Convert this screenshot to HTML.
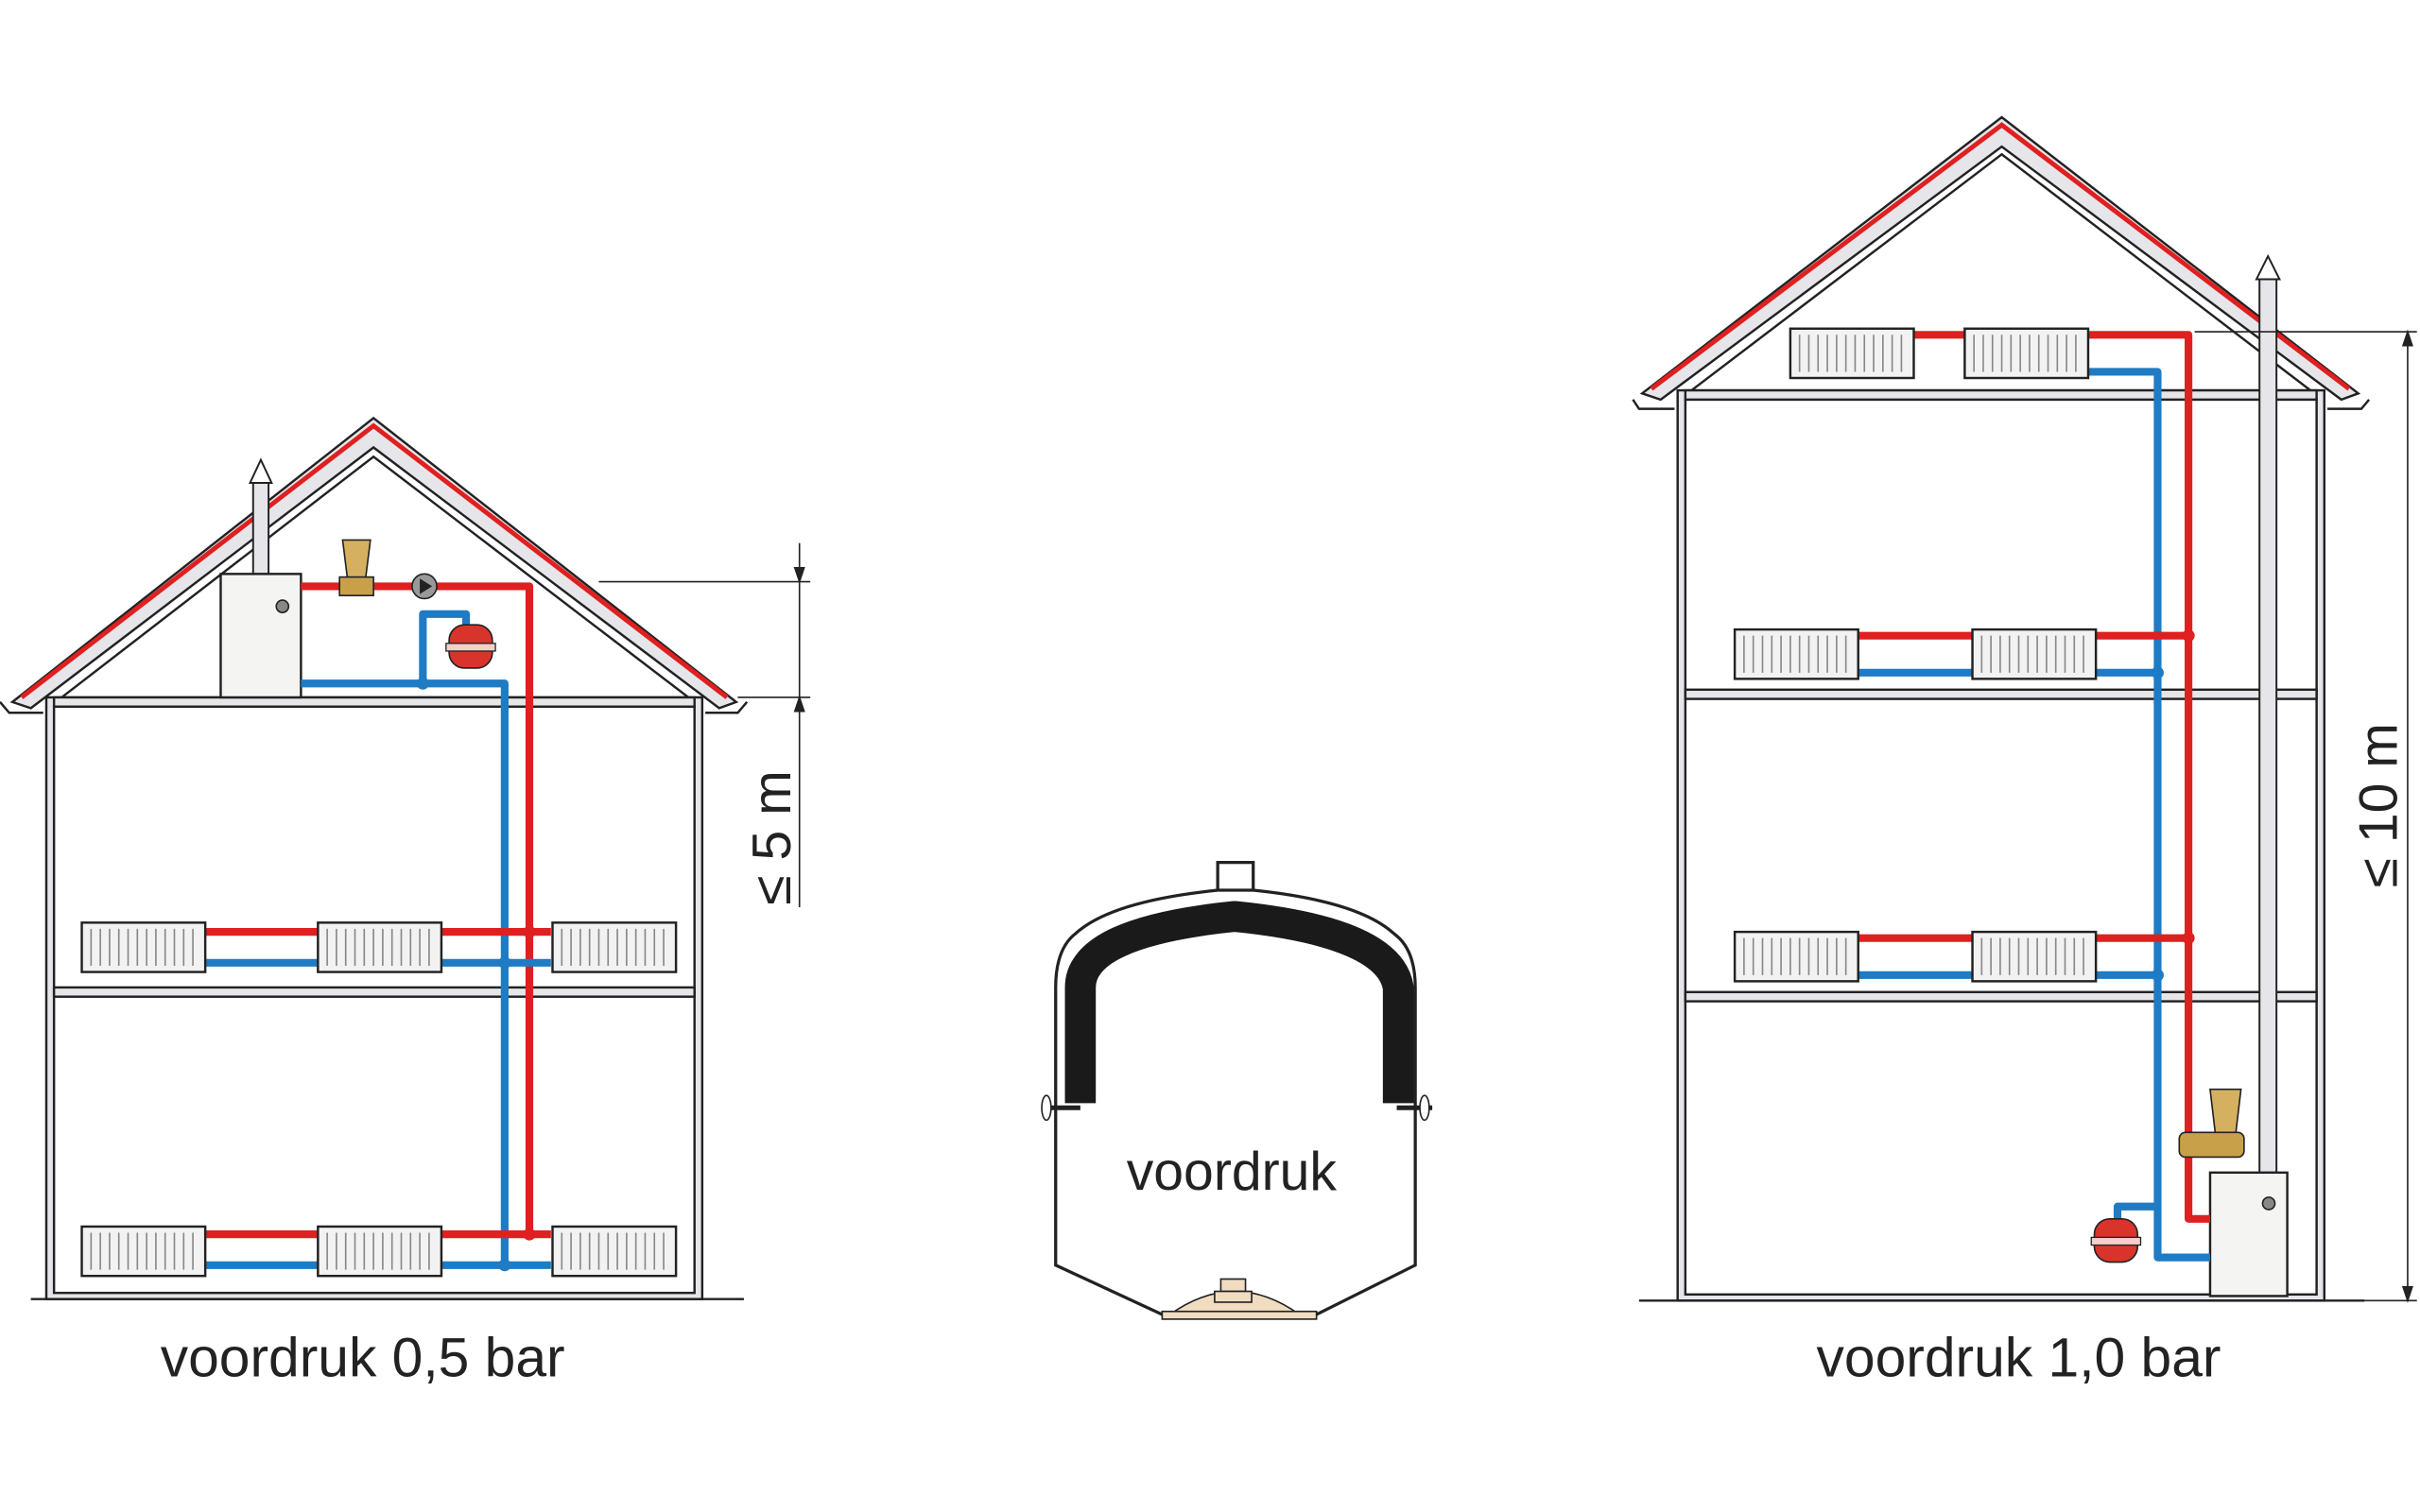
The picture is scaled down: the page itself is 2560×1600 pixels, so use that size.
<!DOCTYPE html>
<html><head><meta charset="utf-8"><style>html,body{margin:0;padding:0;background:#fff}svg{display:block}</style></head><body>
<svg width="2560" height="1600" viewBox="0 0 1568 980" xmlns="http://www.w3.org/2000/svg" font-family="Liberation Sans, sans-serif">
<defs>
<g id="rad">
<rect x="0" y="0" width="80" height="32" fill="#f2f2f2" stroke="#222" stroke-width="1.5"/>
<path d="M6 4v24M12 4v24M18 4v24M24 4v24M30 4v24M36 4v24M42 4v24M48 4v24M54 4v24M60 4v24M66 4v24M72 4v24" stroke="#888" stroke-width="1"/>
</g>
<g id="vessel">
<rect x="-14" y="-14" width="28" height="28" rx="10" fill="#d9342b" stroke="#222" stroke-width="1"/>
<rect x="-16" y="-2" width="32" height="5" fill="#f4d0c8" stroke="#222" stroke-width="0.8"/>
</g>
</defs>
<!-- LEFT HOUSE -->
<g fill="none" stroke="#222" stroke-width="1.5">
<rect x="30" y="452" width="425" height="390" fill="#e6e6ea"/>
<rect x="35" y="458" width="415" height="380" fill="#fff"/>
<rect x="35" y="640" width="415" height="6" fill="#e6e6ea"/>
<path d="M8 455 L242 271 L477 455 L466 459 L242 290 L20 459 Z" fill="#e6e6ea"/>
<path d="M40 452 L242 296 L446 452 Z" fill="#fff"/>
<rect x="35" y="452" width="415" height="6" fill="#e6e6ea"/>
<path d="M0 455 L6 462 L28 462 M457 462 L478 462 L484 455"/>
<line x1="20" y1="842" x2="482" y2="842"/>
</g>
<path d="M14 452 L242 276 L471 452" fill="none" stroke="#e02020" stroke-width="3"/>
<rect x="164" y="312" width="10" height="60" fill="#e6e6ea" stroke="#222" stroke-width="1.2"/>
<path d="M162 313 L169 298 L176 313 Z" fill="#fff" stroke="#222" stroke-width="1.2"/>
<rect x="143" y="372" width="52" height="80" fill="#f4f4f2" stroke="#222" stroke-width="1.5"/>
<circle cx="183" cy="393" r="4" fill="#888" stroke="#222"/>
<g fill="none" stroke-width="5" stroke-linejoin="round">
<path d="M195 380 H343 V800" stroke="#e02020"/>
<path d="M195 443 H327 V820" stroke="#1f7bc3"/>
<path d="M274 443 V398 H302 V412" stroke="#1f7bc3"/>
<path d="M133 604 H357 M133 800 H357" stroke="#e02020"/>
<path d="M133 624 H357 M133 820 H357" stroke="#1f7bc3"/>
</g>
<circle cx="343" cy="604" r="4" fill="#e02020"/><circle cx="343" cy="800" r="4" fill="#e02020"/>
<circle cx="327" cy="624" r="4" fill="#1f7bc3"/><circle cx="327" cy="820" r="4" fill="#1f7bc3"/><circle cx="274" cy="443" r="4" fill="#1f7bc3"/>
<path d="M222 350 H240 L236 382 H226 Z" fill="#d4b060" stroke="#222"/><rect x="220" y="374" width="22" height="12" fill="#c9a04a" stroke="#222"/>
<circle cx="275" cy="380" r="8" fill="#999" stroke="#222"/><path d="M272 375 L280 380 L272 385Z" fill="#222"/>
<use href="#vessel" x="305" y="419"/>
<use href="#rad" x="53" y="598"/><use href="#rad" x="206" y="598"/><use href="#rad" x="358" y="598"/>
<use href="#rad" x="53" y="795"/><use href="#rad" x="206" y="795"/><use href="#rad" x="358" y="795"/>
<g stroke="#222" stroke-width="1" fill="#222">
<line x1="388" y1="377" x2="525" y2="377"/><line x1="478" y1="452" x2="525" y2="452"/>
<line x1="518" y1="352" x2="518" y2="588"/>
<path d="M515 368 L518 377 L521 368Z M515 461 L518 452 L521 461Z"/>
</g>
<text transform="translate(512,543) rotate(-90)" font-size="35" text-anchor="middle" fill="#222">≤ 5 m</text>
<text x="235" y="892" font-size="36" text-anchor="middle" fill="#222">voordruk 0,5 bar</text>
<!-- TANK -->
<g stroke="#222" stroke-width="2" fill="#fff">
<rect x="789" y="559" width="23" height="20"/>
<path d="M789 577 Q720 584 697 605 Q684 615 684 640 V820 L753 852 H853 L917 820 V640 Q917 615 903 605 Q880 584 812 577 Z"/>
</g>
<path d="M700 715 V640 Q700 604 800 594 Q900 604 906 640 V715" fill="none" stroke="#1a1a1a" stroke-width="20" stroke-linejoin="round"/>
<path d="M676 718 H700 M905 718 H928" stroke="#222" stroke-width="3"/>
<ellipse cx="678" cy="718" rx="3" ry="8" fill="#fff" stroke="#222"/><ellipse cx="923" cy="718" rx="3" ry="8" fill="#fff" stroke="#222"/>
<path d="M758 852 Q800 822 842 852 Z" fill="#f0dcc0" stroke="#222"/>
<rect x="753" y="850" width="100" height="5" fill="#f0dcc0" stroke="#222"/>
<rect x="791" y="829" width="16" height="8" fill="#f0dcc0" stroke="#222"/>
<rect x="787" y="837" width="24" height="7" fill="#f0dcc0" stroke="#222"/>
<text x="798" y="771" font-size="35" text-anchor="middle" fill="#222">voordruk</text>
<!-- RIGHT HOUSE -->
<g fill="none" stroke="#222" stroke-width="1.5">
<rect x="1087" y="253" width="419" height="590" fill="#e6e6ea"/>
<rect x="1092" y="259" width="409" height="580" fill="#fff"/>
<rect x="1092" y="447" width="409" height="6" fill="#e6e6ea"/>
<rect x="1092" y="643" width="409" height="6" fill="#e6e6ea"/>
<path d="M1064 255 L1297 76 L1528 255 L1517 259 L1297 95 L1076 259 Z" fill="#e6e6ea"/>
<path d="M1096 253 L1297 100 L1497 253 Z" fill="#fff"/>
<rect x="1092" y="253" width="409" height="6" fill="#e6e6ea"/>
<path d="M1058 259 L1062 265 L1085 265 M1508 265 L1530 265 L1535 259"/>
<line x1="1062" y1="843" x2="1532" y2="843"/>
</g>
<path d="M1070 252 L1297 81 L1522 252" fill="none" stroke="#e02020" stroke-width="3"/>
<rect x="1464" y="180" width="11" height="580" fill="#e6e6ea" stroke="#222" stroke-width="1.2"/>
<path d="M1462 181 L1469.5 166 L1477 181 Z" fill="#fff" stroke="#222" stroke-width="1.2"/>
<rect x="1432" y="760" width="50" height="80" fill="#f4f4f2" stroke="#222" stroke-width="1.5"/>
<circle cx="1470" cy="780" r="4" fill="#888" stroke="#222"/>
<g fill="none" stroke-width="5" stroke-linejoin="round">
<path d="M1240 217 H1418 V790 H1432" stroke="#e02020"/>
<path d="M1353 241 H1398 V815 H1432" stroke="#1f7bc3"/>
<path d="M1398 782 H1372 V792" stroke="#1f7bc3"/>
<path d="M1204 412 H1418 M1204 608 H1418" stroke="#e02020"/>
<path d="M1204 436 H1398 M1204 632 H1398" stroke="#1f7bc3"/>
</g>
<circle cx="1418" cy="412" r="4" fill="#e02020"/><circle cx="1418" cy="608" r="4" fill="#e02020"/>
<circle cx="1398" cy="436" r="4" fill="#1f7bc3"/><circle cx="1398" cy="632" r="4" fill="#1f7bc3"/>
<path d="M1432 706 H1452 L1448 740 H1436 Z" fill="#d4b060" stroke="#222"/><rect x="1412" y="734" width="42" height="16" rx="4" fill="#c9a04a" stroke="#222"/>
<use href="#vessel" x="1371" y="804"/>
<use href="#rad" x="1160" y="213"/><use href="#rad" x="1273" y="213"/>
<use href="#rad" x="1124" y="408"/><use href="#rad" x="1278" y="408"/>
<use href="#rad" x="1124" y="604"/><use href="#rad" x="1278" y="604"/>
<g stroke="#222" stroke-width="1" fill="#222">
<line x1="1422" y1="215" x2="1566" y2="215"/><line x1="1530" y1="843" x2="1566" y2="843"/>
<line x1="1560" y1="215" x2="1560" y2="843"/>
<path d="M1557 224 L1560 215 L1563 224Z M1557 834 L1560 843 L1563 834Z"/>
</g>
<text transform="translate(1553,522) rotate(-90)" font-size="35" text-anchor="middle" fill="#222">≤ 10 m</text>
<text x="1308" y="892" font-size="36" text-anchor="middle" fill="#222">voordruk 1,0 bar</text>
</svg>
</body></html>
